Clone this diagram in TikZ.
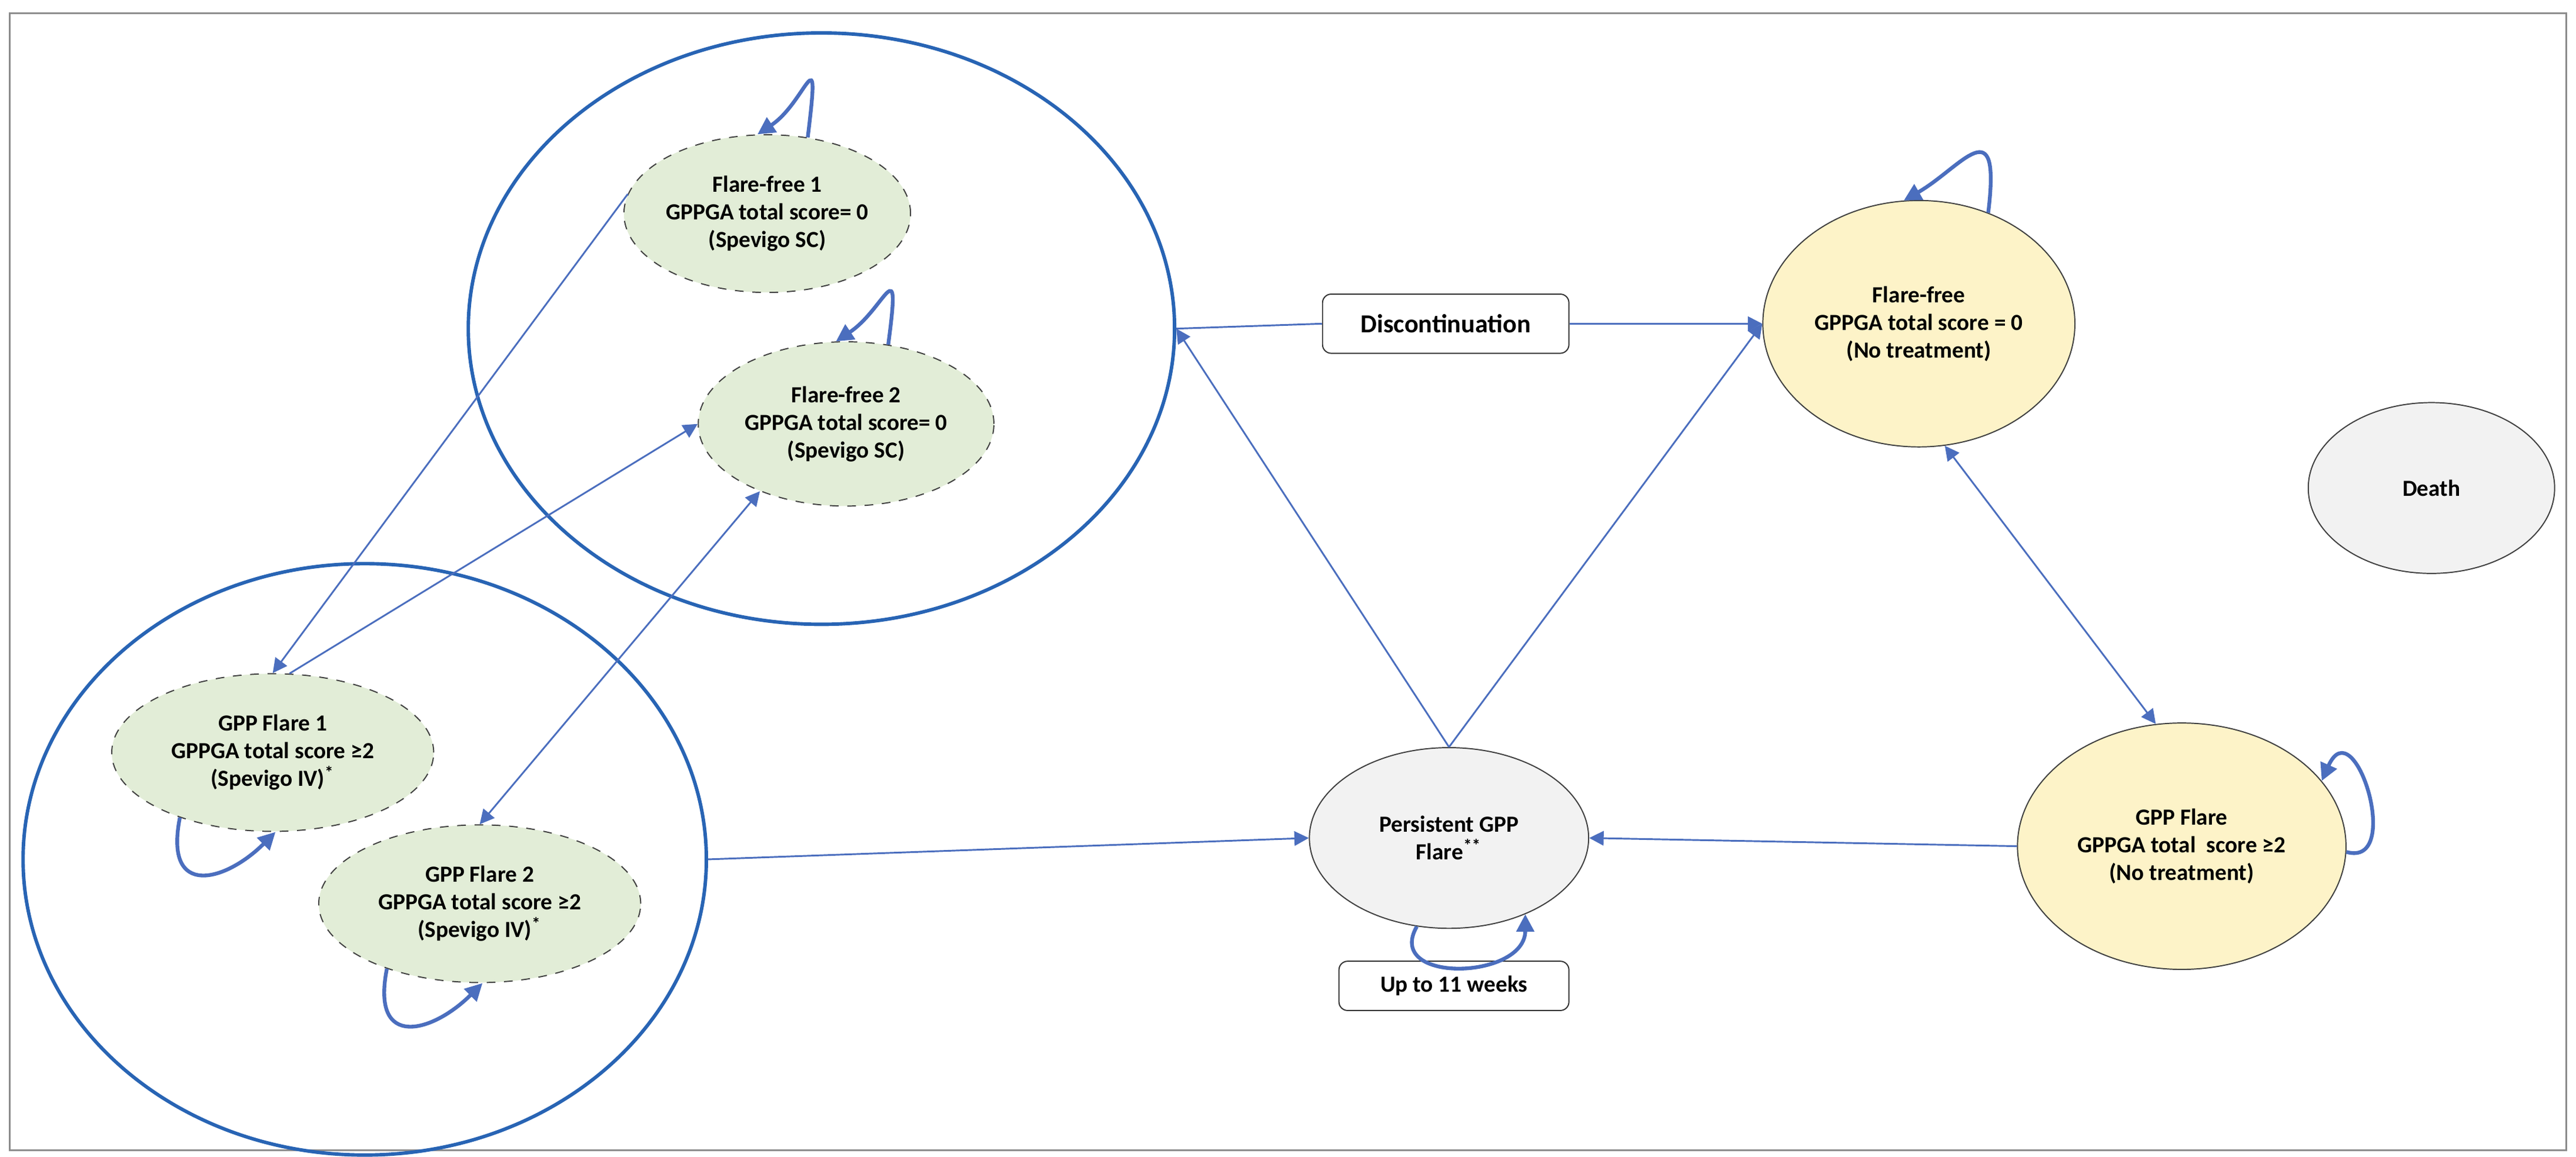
\documentclass[tikz,border=0pt]{standalone}
\usepackage{fontspec}
\setmainfont{Carlito}
\usetikzlibrary{shapes.geometric,arrows.meta}
\definecolor{circ}{RGB}{40,100,180}
\definecolor{arr}{RGB}{75,110,190}
\definecolor{grn}{RGB}{226,237,215}
\definecolor{yel}{RGB}{253,243,200}
\definecolor{gry}{RGB}{242,242,242}
\begin{document}
\begin{tikzpicture}[x=0.02cm,y=-0.02cm,
  txt/.style={font=\fontsize{8}{9.6}\selectfont\bfseries,align=center},
  big/.style={ellipse,draw=circ,line width=1.2pt,inner sep=0},
  st/.style={ellipse,txt,draw=black!75,inner sep=0},
  gs/.style={st,fill=grn,dashed},
  ys/.style={st,fill=yel},
  as/.style={st,fill=gry},
  bx/.style={txt,draw=black!80,rounded corners=3pt,inner sep=0},
  ar/.style={draw=arr,line width=0.6pt,-{Triangle[length=5pt,width=5pt]}},
  ln/.style={draw=arr,line width=0.6pt},
  lp/.style={draw=arr,line width=1.3pt,-{Triangle[length=6pt,width=6pt]}}]
\useasboundingbox (0,0) rectangle (1568,704);
\draw[black!45,line width=0.6pt] (6,8) rectangle (1562,700);
\node[big,minimum width=8.6cm,minimum height=7.2cm] (tc) at (500,200) {};
\node[big,minimum width=8.32cm,minimum height=7.2cm] (bc) at (222,523) {};
\node[gs,minimum width=3.28cm,minimum height=1.92cm] (ff1) at (467,130) {Flare-free 1\\GPPGA total score= 0\\(Spevigo SC)};
\node[gs,minimum width=3.6cm,minimum height=2.0cm] (ff2) at (515,258) {Flare-free 2\\GPPGA total score= 0\\(Spevigo SC)};
\node[gs,minimum width=3.92cm,minimum height=1.92cm] (gf1) at (166,458) {GPP Flare 1\\GPPGA total score ≥2\\(Spevigo IV)\textsuperscript{*}};
\node[gs,minimum width=3.92cm,minimum height=1.92cm] (gf2) at (292,550) {GPP Flare 2\\GPPGA total score ≥2\\(Spevigo IV)\textsuperscript{*}};
\node[bx,minimum width=3.0cm,minimum height=0.72cm] (disc) at (880,197) {\fontsize{9}{10}\selectfont Discontinuation};
\node[ys,minimum width=3.8cm,minimum height=3.0cm] (ffr) at (1168,197) {Flare-free\\GPPGA total score = 0\\(No treatment)};
\node[as,minimum width=3.0cm,minimum height=2.08cm] (death) at (1480,297) {Death};
\node[ys,minimum width=4.0cm,minimum height=3.0cm] (gfr) at (1328,515) {GPP Flare\\GPPGA total~ score ≥2\\(No treatment)};
\node[as,minimum width=3.4cm,minimum height=2.2cm] (per) at (882,510) {Persistent GPP\\Flare\textsuperscript{**}};
\node[bx,minimum width=2.8cm,minimum height=0.6cm] (up) at (885,600) {Up to 11 weeks};
% connectors
\draw[ar] (ff1.172) -- (gf1.north);
\draw[ar] (gf1.78) -- (ff2.west);
\draw[ar,{Triangle[length=5pt,width=5pt]}-{Triangle[length=5pt,width=5pt]}] (ff2.218) -- (gf2.north);
\draw[ar] (bc.east) -- (per.west);
\draw[ar] (per.north) -- (tc.east);
\draw[ar] (per.north) -- (ffr.west);
\draw[ln] (tc.east) -- (disc.west);
\draw[ar] (disc.east) -- (ffr.west);
\draw[ar,{Triangle[length=5pt,width=5pt]}-{Triangle[length=5pt,width=5pt]}] (ffr.-78) -- (gfr.102);
\draw[ar] (gfr.west) -- (per.east);
% self loops
\draw[lp] (ff1.62) .. controls +(8,-65) and +(30,-20) .. (ff1.97);
\draw[lp] (ff2.62) .. controls +(8,-60) and +(30,-20) .. (ff2.97);
\draw[lp] (ffr.58) .. controls +(8,-65) and +(35,-20) .. (ffr.97);
\draw[lp] (gfr.-2) .. controls +(35,10) and +(20,-45) .. (gfr.25);
\draw[lp] (gf1.-145) .. controls +(-10,50) and +(-30,30) .. (gf1.-88);
\draw[lp] (gf2.-145) .. controls +(-10,50) and +(-30,30) .. (gf2.-88);
\draw[lp] (per.-110) .. controls +(-20,35) and +(0,40) .. (per.-45);
\end{tikzpicture}
\end{document}
